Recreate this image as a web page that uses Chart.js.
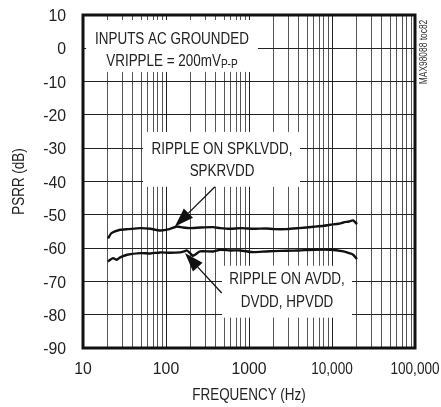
<!DOCTYPE html>
<html>
<head>
<meta charset="utf-8">
<script src="https://cdn.jsdelivr.net/npm/chart.js@4/dist/chart.umd.min.js"></script>
<style>
  html, body { margin: 0; padding: 0; background: #fff; }
  canvas { display: block; }
</style>
</head>
<body>
<canvas id="psrr" width="441" height="407"></canvas>
<script>
// PSRR vs frequency, two supply-ripple curves
// text is drawn in Liberation Sans squeezed sideways to look like the condensed face of the original
const FONT = "'Liberation Sans', Arial, sans-serif";
const SQUEEZE = 0.84;      // words
const NUM_SQUEEZE = 0.93;  // tick numbers
const COMMA_SQUEEZE = 0.8; // long numbers with a thousands comma

const xDecades = [10, 100, 1000, 10000, 100000];
const xTickLabels = ['10', '100', '1000', '10,000', '100,000'];
const yTicks = [10, 0, -10, -20, -30, -40, -50, -60, -70, -80, -90];
const xTitle = 'FREQUENCY (Hz)';
const yTitle = 'PSRR (dB)';
const sideCode = 'MAX98088 toc82';

// ripple on SPKLVDD / SPKRVDD
const spkFreq = [20, 22, 28, 35, 49, 65, 85, 110, 135, 160, 195, 260, 370, 450, 590, 800, 1130, 1600, 2000, 2850, 4000, 6000, 8000, 9500, 12000, 13700, 16000, 18000, 20000];
const spkDb   = [-57.1, -55.5, -54.5, -54.3, -54.0, -54.2, -54.7, -54.3, -53.5, -53.8, -54.0, -53.8, -53.7, -54.0, -54.2, -54.0, -54.2, -54.1, -54.3, -54.3, -54.0, -53.6, -53.3, -53.0, -52.7, -52.3, -52.0, -51.7, -52.8];

// ripple on AVDD, DVDD, HPVDD
const avdFreq = [20, 23, 25.5, 28, 34, 49, 65, 85, 110, 148, 165, 177, 195, 210, 223, 257, 372, 450, 590, 780, 1130, 1600, 2000, 2850, 4000, 6000, 9500, 13700, 16000, 18000, 20000];
const avdDb   = [-64.0, -63.0, -63.5, -62.8, -62.0, -61.5, -61.6, -61.3, -61.4, -61.3, -61.0, -60.7, -61.5, -62.3, -62.0, -61.0, -61.0, -60.5, -60.7, -60.7, -61.2, -61.0, -60.9, -60.8, -60.7, -60.5, -60.5, -61.0, -61.5, -62.0, -63.3];

// label boxes in data units: [freqLeft, freqRight, dbTop, dbBottom]
const boxes = [
  { rect: [10.9, 1283, 8.5, -7.1], at: 118, lines: [[2.5, 'INPUTS AC GROUNDED'], [-4.1, 'VRIPPLE = 200mV', 'P-P']] },
  { rect: [53, 4111, -25.1, -41.6], at: 473, lines: [[-30.5, 'RIPPLE ON SPKLVDD,'], [-37.1, 'SPKRVDD']] },
  { rect: [473, 17400, -65.3, -80.9], at: 2872, lines: [[-69.5, 'RIPPLE ON AVDD,'], [-76.4, 'DVDD, HPVDD']] }
];
// arrows: [tailFreq, tailDb, tipFreq, tipDb]
const arrows = [
  [389, -41.6, 128, -53.5],
  [469, -73.5, 169, -61.5]
];

const xGridTicks = [];
for (let d = 10; d < 100000; d *= 10) {
  for (let m = 1; m < 10; m++) xGridTicks.push(d * m);
}
xGridTicks.push(100000);

const toPts = (fs, ds) => fs.map((f, i) => ({ x: f, y: ds[i] }));

// squeezed text; align is 'left' | 'center' | 'right'
function say(ctx, text, x, y, size, align, rot, sq) {
  ctx.save();
  ctx.translate(x, y);
  if (rot) ctx.rotate(rot);
  ctx.scale(sq || SQUEEZE, 1);
  ctx.font = size + 'px ' + FONT;
  ctx.textAlign = align || 'center';
  ctx.textBaseline = 'middle';
  ctx.fillText(text, 0, 0);
  ctx.restore();
}
function widthOf(ctx, text, size) {
  ctx.save();
  ctx.font = size + 'px ' + FONT;
  const w = ctx.measureText(text).width * SQUEEZE;
  ctx.restore();
  return w;
}

const frame = {
  id: 'frame',
  afterDatasetsDraw(chart) {
    const { ctx, chartArea: a, scales: { x, y } } = chart;
    ctx.save();
    // label boxes
    boxes.forEach(b => {
      const l = x.getPixelForValue(b.rect[0]), r = x.getPixelForValue(b.rect[1]);
      const t = y.getPixelForValue(b.rect[2]), bt = y.getPixelForValue(b.rect[3]);
      ctx.fillStyle = '#fff';
      ctx.fillRect(l, t, r - l, bt - t);
      ctx.fillStyle = '#222';
      const cx = x.getPixelForValue(b.at);
      b.lines.forEach(ln => {
        const ty = y.getPixelForValue(ln[0]);
        const w1 = widthOf(ctx, ln[1], 16);
        const w2 = ln[2] ? widthOf(ctx, ln[2], 12) : 0;
        const sx = cx - (w1 + w2) / 2;
        say(ctx, ln[1], sx, ty, 16, 'left');
        if (ln[2]) say(ctx, ln[2], sx + w1, ty + 3, 12, 'left');
      });
    });
    // arrows
    ctx.strokeStyle = '#111';
    ctx.fillStyle = '#111';
    arrows.forEach(ar => {
      const x0 = x.getPixelForValue(ar[0]), y0 = y.getPixelForValue(ar[1]);
      const x1 = x.getPixelForValue(ar[2]), y1 = y.getPixelForValue(ar[3]);
      const ang = Math.atan2(y1 - y0, x1 - x0);
      const len = 19, half = 6.5;
      const bx = x1 - len * Math.cos(ang), by = y1 - len * Math.sin(ang);
      ctx.lineWidth = 1.3;
      ctx.beginPath(); ctx.moveTo(x0, y0); ctx.lineTo(bx, by); ctx.stroke();
      ctx.beginPath();
      ctx.moveTo(x1, y1);
      ctx.lineTo(bx + half * Math.sin(ang), by - half * Math.cos(ang));
      ctx.lineTo(bx - half * Math.sin(ang), by + half * Math.cos(ang));
      ctx.closePath(); ctx.fill();
    });
    // heavy frame
    ctx.lineWidth = 3;
    ctx.strokeStyle = '#111';
    ctx.strokeRect(a.left, a.top, a.right - a.left, a.bottom - a.top);

    // tick labels and titles
    ctx.fillStyle = '#222';
    yTicks.forEach(v => say(ctx, String(v), a.left - 17, y.getPixelForValue(v) + 1.5, 17, 'right', 0, NUM_SQUEEZE));
    xDecades.forEach((v, i) => {
      const lab = xTickLabels[i];
      say(ctx, lab, x.getPixelForValue(v), 369.5, 17, 'center', 0, lab.includes(',') ? COMMA_SQUEEZE : NUM_SQUEEZE);
    });
    say(ctx, xTitle, (a.left + a.right) / 2, 396, 16, 'center');
    say(ctx, yTitle, 20, (a.top + a.bottom) / 2, 16, 'center', -Math.PI / 2);
    ctx.fillStyle = '#333';
    say(ctx, sideCode, 424, 52, 10, 'center', -Math.PI / 2);
    ctx.restore();
  }
};

const hideAxisPad = s => { s.paddingLeft = 0; s.paddingRight = 0; s.paddingTop = 0; s.paddingBottom = 0; };

new Chart(document.getElementById('psrr'), {
  type: 'line',
  data: {
    datasets: [
      { label: 'SPKLVDD, SPKRVDD', data: toPts(spkFreq, spkDb) },
      { label: 'AVDD, DVDD, HPVDD', data: toPts(avdFreq, avdDb) }
    ]
  },
  options: {
    responsive: false,
    animation: false,
    layout: { padding: { top: 15, right: 26, left: 0, bottom: 0 } },
    elements: {
      line: { borderColor: '#111', borderWidth: 2.4, tension: 0.2 },
      point: { radius: 0 }
    },
    plugins: { legend: { display: false }, tooltip: { enabled: false } },
    scales: {
      x: {
        type: 'logarithmic',
        min: 10, max: 100000,
        afterBuildTicks: s => { s.ticks = xGridTicks.map(v => ({ value: v })); },
        afterFit: s => { s.height = 59; hideAxisPad(s); },
        grid: {
          drawTicks: false,
          color: c => (c.tick && xDecades.includes(c.tick.value)) ? '#222' : '#555',
          lineWidth: 1
        },
        border: { display: false },
        ticks: { display: false }
      },
      y: {
        min: -90, max: 10,
        afterBuildTicks: s => { s.ticks = yTicks.map(v => ({ value: v })); },
        afterFit: s => { s.width = 83; hideAxisPad(s); },
        grid: { drawTicks: false, color: '#222', lineWidth: 1 },
        border: { display: false },
        ticks: { display: false }
      }
    }
  },
  plugins: [frame]
});
</script>
</body>
</html>
